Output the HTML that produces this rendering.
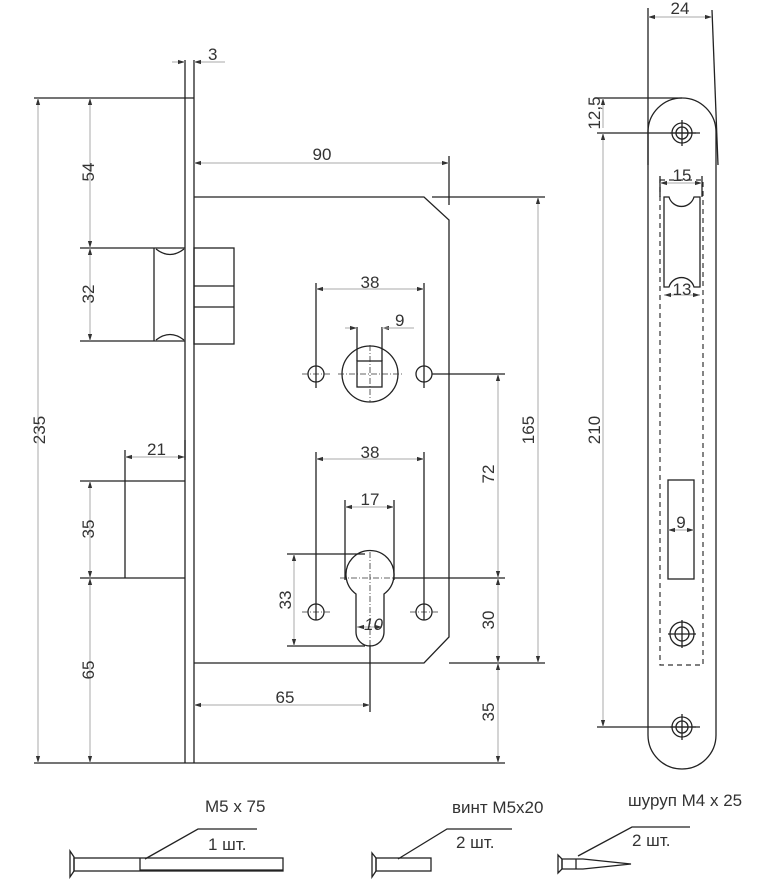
<!DOCTYPE html>
<html><head><meta charset="utf-8"><style>
html,body{margin:0;padding:0;background:#fff;}
svg{display:block;}
text{font-family:"Liberation Sans",sans-serif;font-size:17px;fill:#333;}
.k{stroke:#222;stroke-width:1.3;fill:none;}
.g{stroke:#aaa;stroke-width:1;fill:none;}
.c{stroke:#333;stroke-width:0.8;fill:none;stroke-dasharray:6 2 1 2;}
.d{stroke:#333;stroke-width:1.2;fill:none;stroke-dasharray:5 4;}
</style></head><body>
<svg width="762" height="885" viewBox="0 0 762 885" xmlns="http://www.w3.org/2000/svg">
<defs>
<marker id="a" viewBox="0 0 10 10" refX="10" refY="5" markerWidth="7" markerHeight="7" orient="auto-start-reverse"><path d="M0,2 L10,5 L0,8z" fill="#333"/></marker>
</defs>
<line class="k" x1="185" y1="60" x2="185" y2="763"/>
<line class="k" x1="194" y1="60" x2="194" y2="763"/>
<line class="k" x1="34" y1="98" x2="194" y2="98"/>
<line class="k" x1="34" y1="763" x2="194" y2="763"/>
<line class="g" x1="172" y1="62" x2="185" y2="62" marker-end="url(#a)"/>
<line class="g" x1="207" y1="62" x2="194" y2="62" marker-end="url(#a)"/>
<line class="g" x1="207" y1="62" x2="225" y2="62"/>
<text x="208" y="60" font-size="14">3</text>
<path class="k" d="M194,197 H424 L449,220 V637 L424,663 H194"/>
<line class="k" x1="432" y1="197" x2="545" y2="197"/>
<line class="k" x1="449" y1="156" x2="449" y2="205"/>
<line class="k" x1="80" y1="248" x2="185" y2="248"/>
<line class="k" x1="80" y1="341" x2="185" y2="341"/>
<line class="k" x1="154" y1="248" x2="154" y2="341"/>
<path class="k" d="M156,249 Q170,260 184,249 M156,340 Q170,329 184,340"/>
<rect class="k" x="194" y="248" width="40" height="96"/>
<line class="k" x1="194" y1="286" x2="234" y2="286"/>
<line class="k" x1="194" y1="307" x2="234" y2="307"/>
<line class="k" x1="80" y1="481" x2="185" y2="481"/>
<line class="k" x1="80" y1="578" x2="185" y2="578"/>
<line class="k" x1="125" y1="450" x2="125" y2="578"/>
<line class="g" x1="38" y1="98" x2="38" y2="763" marker-start="url(#a)" marker-end="url(#a)"/>
<text transform="translate(45,430) rotate(-90)" text-anchor="middle">235</text>
<line class="g" x1="90" y1="98" x2="90" y2="248" marker-start="url(#a)" marker-end="url(#a)"/>
<text transform="translate(94,172) rotate(-90)" text-anchor="middle">54</text>
<line class="g" x1="90" y1="248" x2="90" y2="341" marker-start="url(#a)" marker-end="url(#a)"/>
<text transform="translate(94,294) rotate(-90)" text-anchor="middle">32</text>
<line class="g" x1="90" y1="481" x2="90" y2="578" marker-start="url(#a)" marker-end="url(#a)"/>
<text transform="translate(94,529) rotate(-90)" text-anchor="middle">35</text>
<line class="g" x1="90" y1="578" x2="90" y2="763" marker-start="url(#a)" marker-end="url(#a)"/>
<text transform="translate(94,670) rotate(-90)" text-anchor="middle">65</text>
<line class="g" x1="125" y1="457" x2="185" y2="457" marker-start="url(#a)" marker-end="url(#a)"/>
<line class="k" x1="185" y1="440" x2="185" y2="460"/>
<text x="147" y="455">21</text>
<line class="g" x1="194" y1="163" x2="449" y2="163" marker-start="url(#a)" marker-end="url(#a)"/>
<text x="322" y="160" text-anchor="middle">90</text>
<circle class="k" cx="370" cy="374" r="28"/>
<rect class="k" x="357" y="361" width="25" height="26"/>
<line class="k" x1="357" y1="327" x2="357" y2="361"/>
<line class="k" x1="382" y1="327" x2="382" y2="361"/>
<line class="g" x1="345" y1="328" x2="357" y2="328" marker-end="url(#a)"/>
<line class="g" x1="395" y1="328" x2="382" y2="328" marker-end="url(#a)"/>
<line class="g" x1="382" y1="328" x2="414" y2="328"/>
<text x="395" y="326">9</text>
<line class="c" x1="370" y1="345" x2="370" y2="402"/>
<line class="c" x1="338" y1="374" x2="402" y2="374"/>
<circle class="k" cx="316" cy="374" r="8"/>
<circle class="k" cx="424" cy="374" r="8"/>
<line class="c" x1="302" y1="374" x2="330" y2="374"/>
<line class="k" x1="432" y1="374" x2="505" y2="374"/>
<line class="k" x1="316" y1="283" x2="316" y2="388"/>
<line class="k" x1="424" y1="283" x2="424" y2="388"/>
<line class="g" x1="316" y1="289" x2="424" y2="289" marker-start="url(#a)" marker-end="url(#a)"/>
<text x="370" y="288" text-anchor="middle">38</text>
<path class="k" d="M356,594 A24,24 0 1 1 384,594 V632 A14,14 0 0 1 356,632 Z"/>
<line class="c" x1="370" y1="552" x2="370" y2="645"/>
<line class="k" x1="370" y1="645" x2="370" y2="712"/>
<line class="c" x1="340" y1="578" x2="394" y2="578"/>
<line class="k" x1="394" y1="578" x2="505" y2="578"/>
<circle class="k" cx="316" cy="612" r="8"/>
<circle class="k" cx="424" cy="612" r="8"/>
<line class="c" x1="302" y1="612" x2="330" y2="612"/>
<line class="c" x1="410" y1="612" x2="438" y2="612"/>
<line class="k" x1="316" y1="452" x2="316" y2="620"/>
<line class="k" x1="424" y1="452" x2="424" y2="620"/>
<line class="g" x1="316" y1="459" x2="424" y2="459" marker-start="url(#a)" marker-end="url(#a)"/>
<text x="370" y="458" text-anchor="middle">38</text>
<line class="k" x1="345" y1="500" x2="345" y2="580"/>
<line class="k" x1="394" y1="500" x2="394" y2="580"/>
<line class="g" x1="345" y1="507" x2="394" y2="507" marker-start="url(#a)" marker-end="url(#a)"/>
<text x="370" y="505" text-anchor="middle">17</text>
<line class="k" x1="287" y1="554" x2="365" y2="554"/>
<line class="k" x1="287" y1="646" x2="365" y2="646"/>
<line class="g" x1="294" y1="554" x2="294" y2="646" marker-start="url(#a)" marker-end="url(#a)"/>
<text transform="translate(291,600) rotate(-90)" text-anchor="middle">33</text>
<line class="g" x1="357" y1="627" x2="382" y2="627" marker-start="url(#a)" marker-end="url(#a)"/>
<text x="364" y="630" font-style="italic">10</text>
<line class="k" x1="449" y1="663" x2="545" y2="663"/>
<line class="k" x1="194" y1="763" x2="505" y2="763"/>
<line class="g" x1="538" y1="197" x2="538" y2="663" marker-start="url(#a)" marker-end="url(#a)"/>
<text transform="translate(534,430) rotate(-90)" text-anchor="middle">165</text>
<line class="g" x1="498" y1="374" x2="498" y2="578" marker-start="url(#a)" marker-end="url(#a)"/>
<text transform="translate(494,474) rotate(-90)" text-anchor="middle">72</text>
<line class="g" x1="498" y1="578" x2="498" y2="663" marker-start="url(#a)" marker-end="url(#a)"/>
<text transform="translate(494,620) rotate(-90)" text-anchor="middle">30</text>
<line class="g" x1="498" y1="663" x2="498" y2="763" marker-start="url(#a)" marker-end="url(#a)"/>
<text transform="translate(494,712) rotate(-90)" text-anchor="middle">35</text>
<line class="g" x1="194" y1="705" x2="370" y2="705" marker-start="url(#a)" marker-end="url(#a)"/>
<text x="285" y="703" text-anchor="middle">65</text>
<path class="k" d="M648,165 V132 A34,34 0 0 1 716,132 V735 A34,34 0 0 1 648,735 V165"/>
<line class="k" x1="648" y1="8" x2="648" y2="165"/>
<line class="k" x1="712" y1="10" x2="718" y2="165"/>
<line class="g" x1="648" y1="17" x2="712" y2="17" marker-start="url(#a)" marker-end="url(#a)"/>
<text x="680" y="14" text-anchor="middle">24</text>
<line class="k" x1="597" y1="98" x2="682" y2="98"/>
<line class="k" x1="597" y1="133" x2="700" y2="133"/>
<line class="k" x1="597" y1="727" x2="700" y2="727"/>
<line class="g" x1="603" y1="98" x2="603" y2="128" marker-start="url(#a)"/>
<line class="g" x1="603" y1="133" x2="603" y2="727" marker-start="url(#a)" marker-end="url(#a)"/>
<text transform="translate(600,113) rotate(-90)" text-anchor="middle">12,5</text>
<text transform="translate(600,430) rotate(-90)" text-anchor="middle">210</text>
<g>
<circle class="k" cx="682" cy="133" r="10"/><circle class="k" cx="682" cy="133" r="6"/>
<line class="k" x1="670" y1="133" x2="696" y2="133" stroke-width="0.7"/><line class="k" x1="682" y1="120" x2="682" y2="146" stroke-width="0.7"/>
<circle class="k" cx="682" cy="634" r="12"/><circle class="k" cx="682" cy="634" r="7"/>
<line class="k" x1="668" y1="634" x2="696" y2="634" stroke-width="0.7"/><line class="k" x1="682" y1="620" x2="682" y2="648" stroke-width="0.7"/>
<circle class="k" cx="682" cy="727" r="10"/><circle class="k" cx="682" cy="727" r="6"/>
<line class="k" x1="670" y1="727" x2="696" y2="727" stroke-width="0.7"/><line class="k" x1="682" y1="714" x2="682" y2="740" stroke-width="0.7"/>
</g>
<rect class="d" x="660" y="180" width="43" height="485"/>
<path class="k" d="M664,197 H669 A13,13 0 0 0 694,197 H700 V287 H694 A13,13 0 0 0 669,287 H664 Z"/>
<line class="k" x1="660" y1="176" x2="660" y2="197"/><line class="k" x1="702" y1="176" x2="702" y2="197"/>
<line class="g" x1="660" y1="183" x2="702" y2="183" marker-start="url(#a)" marker-end="url(#a)"/>
<text x="682" y="181" text-anchor="middle">15</text>
<line class="g" x1="664" y1="295" x2="700" y2="295" marker-start="url(#a)" marker-end="url(#a)"/>
<text x="682" y="295" text-anchor="middle">13</text>
<rect class="k" x="668" y="480" width="26" height="99"/>
<line class="g" x1="668" y1="530" x2="694" y2="530" marker-start="url(#a)" marker-end="url(#a)"/>
<text x="681" y="528" text-anchor="middle">9</text>
<path class="k" d="M70,851 L74,857 V871 L70,877 Z"/>
<rect class="k" x="74" y="858" width="209" height="13"/>
<line class="k" x1="140" y1="858" x2="140" y2="871"/>
<line class="k" x1="140" y1="870" x2="283" y2="870" stroke-width="2"/>
<path class="k" d="M145,859 L198,829 H257" stroke-width="0.9"/>
<text x="205" y="812">M5 x 75</text>
<text x="208" y="850">1 шт.</text>
<path class="k" d="M372,853 L376,858 V871 L372,877 Z"/>
<rect class="k" x="376" y="858" width="55" height="13"/>
<path class="k" d="M398,859 L447,829 H512" stroke-width="0.9"/>
<text x="452" y="813">винт M5x20</text>
<text x="456" y="848">2 шт.</text>
<path class="k" d="M558,855 L562,859 V869 L558,873 Z"/>
<path class="k" d="M562,859 H583 L631,864 L583,869 H562 Z"/>
<line class="k" x1="576" y1="859" x2="576" y2="869"/>
<path class="k" d="M578,856 L632,827 H690" stroke-width="0.9"/>
<text x="628" y="806">шуруп M4 x 25</text>
<text x="632" y="846">2 шт.</text>
</svg>
</body></html>
